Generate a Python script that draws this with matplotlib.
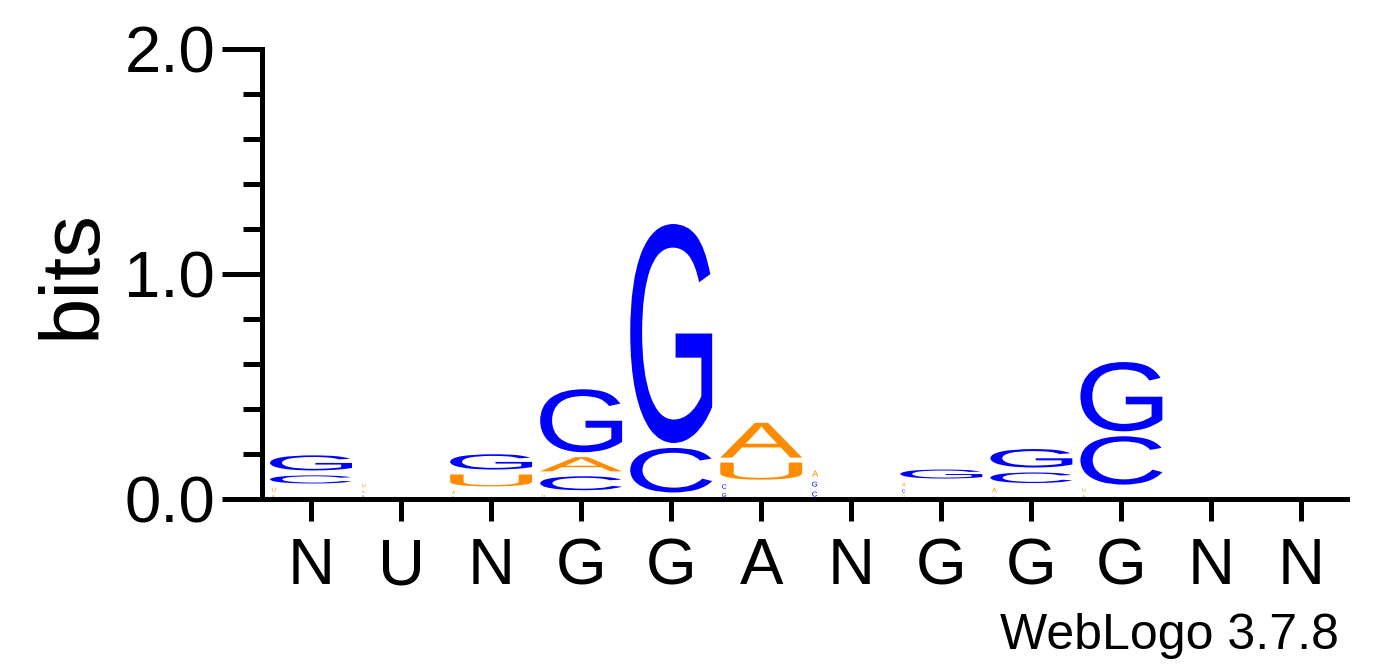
import matplotlib
matplotlib.use("Agg")
import matplotlib.pyplot as plt
import matplotlib.transforms as mtransforms
from matplotlib.textpath import TextPath
from matplotlib.patches import PathPatch
from matplotlib.font_manager import FontProperties
from matplotlib.ticker import MultipleLocator

plt.rcParams["font.family"] = ["Liberation Sans", "DejaVu Sans"]

# consensus labels under each column
consensus = ["N", "U", "N", "G", "G", "A", "N", "G", "G", "G", "N", "N"]

# letter heights in bits per column
bits_A = [0.025, 0.025, 0.030, 0.085, 0.010, 0.177, 0.049, 0.031, 0.040, 0.025, 0.0, 0.0]
bits_C = [0.058, 0.000, 0.015, 0.084, 0.220, 0.040, 0.044, 0.027, 0.069, 0.237, 0.0, 0.0]
bits_G = [0.089, 0.020, 0.090, 0.302, 0.996, 0.035, 0.044, 0.062, 0.104, 0.330, 0.0, 0.0]
bits_U = [0.033, 0.030, 0.075, 0.028, 0.008, 0.098, 0.000, 0.022, 0.020, 0.028, 0.0, 0.0]

colors = {"A": "#ff8c00", "U": "#ff8c00", "C": "#0000ff", "G": "#0000ff"}

fp = FontProperties(family="Liberation Sans")
glyphs = {ch: TextPath((0, 0), ch, size=1, prop=fp) for ch in "ACGU"}


def draw_letter(ax, ch, x, y0, h, width=0.91):
    gap = min(0.022, 0.5 * h)
    gh = h - gap
    if gh <= 0:
        return
    left = x - width / 2
    w = width
    # very small glyphs come out as little marks at the left of the column
    if gh < 0.03:
        w = gh * 2.5
        left = x - width / 2 + 0.02
    tp = glyphs[ch]
    bb = tp.get_extents()
    t = (mtransforms.Affine2D()
         .translate(-bb.x0, -bb.y0)
         .scale(w / bb.width, gh / bb.height)
         .translate(left, y0 + gap / 2))
    ax.add_patch(PathPatch(t.transform_path(tp), fc=colors[ch], ec="none", lw=0))


fig = plt.figure(figsize=(13.92, 6.67), dpi=100)
ax = fig.add_axes([262 / 1392, 168 / 667, 1084.5 / 1392, 449.7 / 667])

for i in range(len(consensus)):
    col = {"A": bits_A[i], "C": bits_C[i], "G": bits_G[i], "U": bits_U[i]}
    y = 0.0
    for ch, h in sorted(col.items(), key=lambda kv: kv[1]):
        if h > 0:
            draw_letter(ax, ch, i + 1, y, h)
            y += h

ax.set_xlim(0.5 - 4 / 90, 12.5)
ax.set_ylim(0, 2)

for s in ["top", "right"]:
    ax.spines[s].set_visible(False)
for s in ["left", "bottom"]:
    ax.spines[s].set_linewidth(3.6)

ax.set_xticks(range(1, len(consensus) + 1))
ax.set_xticklabels(consensus)
ax.set_yticks([0, 1, 2])
ax.set_yticklabels(["0.0", "1.0", "2.0"])
ax.yaxis.set_minor_locator(MultipleLocator(0.2))

ax.tick_params(axis="x", direction="out", length=15.5, width=3.6, pad=12, labelsize=47)
ax.tick_params(axis="y", which="major", direction="out", length=28.8, width=3.6, pad=5, labelsize=47)
ax.tick_params(axis="y", which="minor", direction="out", length=13.7, width=3.6)

fig.text(34 / 1392, 393 / 667, "bits", rotation=90, ha="left", va="center", fontsize=60)
fig.text(1339 / 1392, 18 / 667, "WebLogo 3.7.8", ha="right", va="baseline", fontsize=36)

fig.savefig("out.png", dpi=100)
